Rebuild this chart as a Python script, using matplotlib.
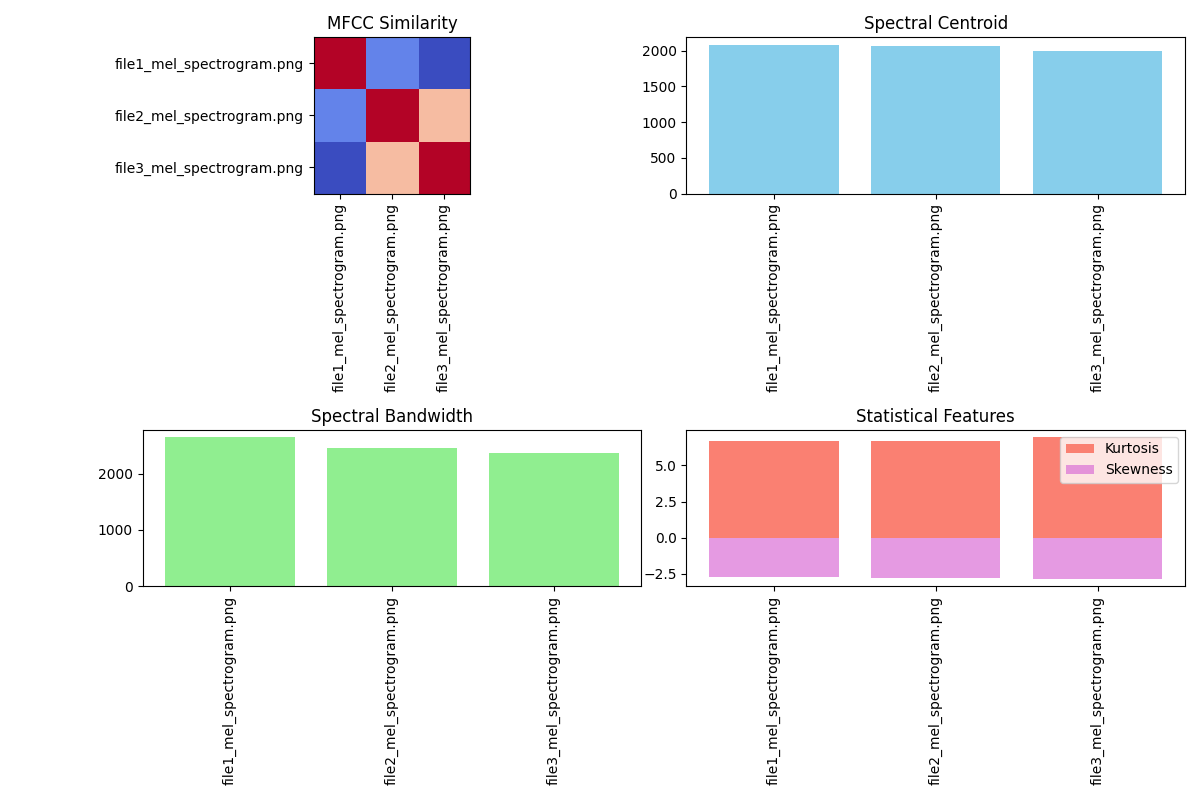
import numpy as np
import matplotlib
matplotlib.use('Agg')
import matplotlib.pyplot as plt

# nombres de los archivos
files = ['file1_mel_spectrogram.png', 'file2_mel_spectrogram.png', 'file3_mel_spectrogram.png']

mfcc_sim = [[1.00, 0.913, 0.90],
            [0.913, 1.00, 0.965],
            [0.90, 0.965, 1.00]]

centroid = [2083, 2069, 1997]
bandwidth = [2644, 2451, 2363]
kurtosis = [6.70, 6.70, 6.97]
skewness = [-2.70, -2.77, -2.85]

fig, axs = plt.subplots(2, 2, figsize=(12, 8))

ax = axs[0, 0]
ax.imshow(np.array(mfcc_sim), cmap='coolwarm')
ax.set_xticks(range(len(files)))
ax.set_xticklabels(files, rotation=90)
ax.set_yticks(range(len(files)))
ax.set_yticklabels(files)
ax.set_title('MFCC Similarity')

ax = axs[0, 1]
ax.bar(files, centroid, color='skyblue')
ax.set_title('Spectral Centroid')
ax.tick_params(axis='x', rotation=90)

ax = axs[1, 0]
ax.bar(files, bandwidth, color='lightgreen')
ax.set_title('Spectral Bandwidth')
ax.tick_params(axis='x', rotation=90)

ax = axs[1, 1]
ax.bar(files, kurtosis, color='salmon', label='Kurtosis')
ax.bar(files, skewness, color='orchid', alpha=0.7, label='Skewness')
ax.set_title('Statistical Features')
ax.tick_params(axis='x', rotation=90)
ax.legend()

plt.tight_layout()
plt.savefig('out.png', dpi=100)
